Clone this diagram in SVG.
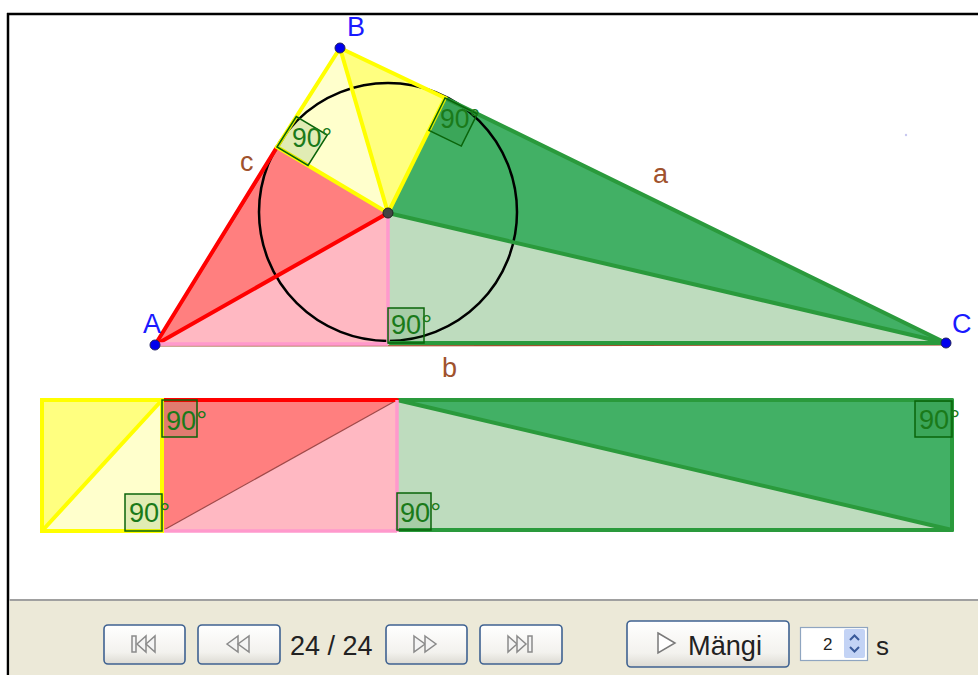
<svg xmlns="http://www.w3.org/2000/svg" width="978" height="675" viewBox="0 0 978 675">
<defs>
<style>
text{font-family:"Liberation Sans",Arial,sans-serif}
.pt{fill:#1a1aff;font-size:27px}
.sd{fill:#a0522d;font-size:27px}
.ang{fill:#1a7a1a;font-size:28px}
.mk{fill:#0a640a;fill-opacity:0.12;stroke:#0a640a;stroke-width:1.5}
.ly{stroke:#ffff00;stroke-width:4;fill:none;stroke-linecap:round}
.lr{stroke:#ff0000;stroke-width:4;fill:none;stroke-linecap:round}
.lp{stroke:#ff99cc;stroke-width:3.5;fill:none}
.lg{stroke:#2a9a3c;stroke-width:4;fill:none;stroke-linecap:round}
.lb{stroke:#a0522d;stroke-width:1.2;fill:none}
.fy{fill:#ffff80}.fly{fill:#ffffcc}.fr{fill:#ff7f7f}.fp{fill:#ffb8c2}.fg{fill:#42b065}.flg{fill:#bedcbe}
.btn{fill:url(#bg);stroke:#3f6291;stroke-width:1.6}
.ico{fill:#f4f4f4;stroke:#8a8a8a;stroke-width:1.5}
.ui{fill:#222;font-family:"Liberation Sans",Arial,sans-serif}
</style>
<linearGradient id="bg" x1="0" y1="0" x2="0" y2="1">
<stop offset="0" stop-color="#ffffff"/>
<stop offset="0.7" stop-color="#f3f2ee"/>
<stop offset="1" stop-color="#dcdad2"/>
</linearGradient>
</defs>
<rect width="978" height="675" fill="#ffffff"/>

<g id="fills">
<polygon class="fly" points="340,48 277,147 388,213"/>
<polygon class="fy" points="340,48 445,98 388,213"/>
<polygon class="fr" points="155,345 277,147 388,213"/>
<polygon class="fp" points="155,345 388,344 388,213"/>
<polygon class="fg" points="946,343 445,98 388,213"/>
<polygon class="flg" points="946,343 388,344 388,213"/>
</g>

<g id="triangle-sides">
<line class="lb" x1="155" y1="346" x2="340" y2="48"/>
<line class="lb" x1="340" y1="47" x2="946" y2="344"/>
<line class="lb" x1="155" y1="346" x2="946" y2="345"/>
</g>

<circle id="incircle" cx="388" cy="212" r="129" fill="none" stroke="#000" stroke-width="2.5"/>

<g id="connectors">
<line class="lr" x1="155" y1="345" x2="277" y2="147"/>
<line class="lr" x1="155" y1="345" x2="388" y2="213"/>
<line class="lp" x1="155" y1="344" x2="388" y2="344"/>
<line class="lp" x1="388" y1="213" x2="388" y2="344"/>
<line class="lg" x1="445" y1="98" x2="946" y2="343"/>
<line class="lg" x1="388" y1="213" x2="946" y2="343"/>
<line class="lg" x1="390" y1="343" x2="946" y2="343"/>
<polyline class="ly" points="340,48 277,147 388,213 445,98 340,48"/>
<line class="ly" x1="340" y1="48" x2="388" y2="213"/>
</g>

<g id="angle-markers-top">
<polygon class="mk" points="277,147 296.3,116.6 327.3,135 308,165.4"/>
<text class="ang" x="292" y="147" textLength="40" lengthAdjust="spacingAndGlyphs">90°</text>
<polygon class="mk" points="445,98 477.3,113.8 461.3,146.1 429,130.3"/>
<text class="ang" x="440" y="128" textLength="40" lengthAdjust="spacingAndGlyphs">90°</text>
<rect class="mk" x="388" y="308" width="36" height="35"/>
<text class="ang" x="391" y="334" textLength="41" lengthAdjust="spacingAndGlyphs">90°</text>
</g>

<g id="point-A"><circle cx="155" cy="345" r="5" fill="#0000ee" stroke="#202060" stroke-width="1"/><text class="pt" x="143" y="333">A</text></g>
<g id="point-B"><circle cx="340" cy="48" r="5" fill="#0000ee" stroke="#202060" stroke-width="1"/><text class="pt" x="347" y="36">B</text></g>
<g id="point-C"><circle cx="946" cy="343" r="5" fill="#0000ee" stroke="#202060" stroke-width="1"/><text class="pt" x="952" y="333">C</text></g>
<g id="point-I"><circle cx="388" cy="213" r="5" fill="#444" stroke="#222" stroke-width="1"/></g>
<g id="side-labels">
<text class="sd" x="653" y="183">a</text>
<text class="sd" x="442" y="377">b</text>
<text class="sd" x="240" y="171">c</text>
</g>
<circle cx="906" cy="135" r="1.2" fill="#c8c8f0"/>

<g id="strip">
<polygon class="fy" points="42,400 162,400 42,531"/>
<polygon class="fly" points="162,400 162,531 42,531"/>
<polygon class="fr" points="162,400 397,400 162,531"/>
<polygon class="fp" points="397,400 397,531 162,531"/>
<polygon class="fg" points="397,400 952,400 952,530"/>
<polygon class="flg" points="397,400 952,530 397,530"/>
<line x1="162" y1="531" x2="397" y2="400" stroke="#a04848" stroke-width="1.2"/>
<line class="lg" x1="397" y1="400" x2="952" y2="400"/>
<line class="lg" x1="952" y1="400" x2="952" y2="530"/>
<line class="lg" x1="397" y1="530" x2="952" y2="530"/>
<line class="lg" x1="397" y1="400" x2="952" y2="530"/>
<line class="lr" x1="162" y1="400" x2="397" y2="400" stroke-linecap="butt"/>
<line class="lp" x1="162" y1="531" x2="397" y2="531"/>
<line class="lp" x1="397" y1="400" x2="397" y2="532"/>
<rect class="ly" x="42" y="400" width="120" height="131" stroke-linecap="butt"/>
<line class="ly" x1="42" y1="531" x2="162" y2="400"/>
<rect class="mk" x="125" y="494" width="37" height="37"/>
<text class="ang" x="129" y="522" textLength="41" lengthAdjust="spacingAndGlyphs">90°</text>
<rect class="mk" x="162" y="400" width="35" height="37"/>
<text class="ang" x="166" y="430" textLength="41" lengthAdjust="spacingAndGlyphs">90°</text>
<rect class="mk" x="397" y="493" width="34" height="37"/>
<text class="ang" x="400" y="522" textLength="41" lengthAdjust="spacingAndGlyphs">90°</text>
<rect class="mk" x="915" y="401" width="37" height="36"/>
<text class="ang" x="919" y="429" textLength="41" lengthAdjust="spacingAndGlyphs">90°</text>
</g>

<g id="frame">
<line x1="7" y1="14" x2="978" y2="14" stroke="#000" stroke-width="2.5"/>
<line x1="8" y1="13" x2="8" y2="675" stroke="#000" stroke-width="2.5"/>
</g>

<g id="toolbar">
<rect x="9.5" y="600" width="969" height="75" fill="#ece9d8"/>
<line x1="9.5" y1="600" x2="978" y2="600" stroke="#a0a0a0" stroke-width="2"/>
<g id="btn-first">
<rect class="btn" x="104" y="625" width="81" height="39" rx="4"/>
<rect class="ico" x="132" y="636" width="4" height="16"/>
<polygon class="ico" points="137,644 146,636 146,652"/>
<polygon class="ico" points="146,644 155,636 155,652"/>
</g>
<g id="btn-prev">
<rect class="btn" x="198" y="625" width="82" height="39" rx="4"/>
<polygon class="ico" points="227,644 238,636 238,652"/>
<polygon class="ico" points="238,644 249,636 249,652"/>
</g>
<text class="ui" x="290" y="655" font-size="27">24 / 24</text>
<g id="btn-next">
<rect class="btn" x="386" y="625" width="81" height="39" rx="4"/>
<polygon class="ico" points="414,636 425,644 414,652"/>
<polygon class="ico" points="425,636 436,644 425,652"/>
</g>
<g id="btn-last">
<rect class="btn" x="480" y="625" width="82" height="39" rx="4"/>
<polygon class="ico" points="508,636 517,644 508,652"/>
<polygon class="ico" points="517,636 526,644 517,652"/>
<rect class="ico" x="528" y="636" width="4" height="16"/>
</g>
<g id="btn-play">
<rect class="btn" x="627" y="621" width="162" height="46" rx="4"/>
<polygon points="658,633 675,643 658,653" fill="#ffffff" stroke="#7a7a7a" stroke-width="1.5"/>
<text class="ui" x="688" y="655" font-size="28" textLength="74" lengthAdjust="spacingAndGlyphs">Mängi</text>
</g>
<g id="spinner">
<rect x="800.5" y="627.5" width="67" height="33" fill="#ffffff" stroke="#8fa5c0" stroke-width="1.2"/>
<text class="ui" x="823" y="650" font-size="17">2</text>
<rect x="844" y="629" width="21" height="29" rx="2" fill="#c3d3f5"/>
<polyline points="850,640 854.5,635.5 859,640" fill="none" stroke="#3a5a9a" stroke-width="2"/>
<polyline points="850,647 854.5,651.5 859,647" fill="none" stroke="#3a5a9a" stroke-width="2"/>
</g>
<text class="ui" x="876" y="655" font-size="26">s</text>
</g>
</svg>
